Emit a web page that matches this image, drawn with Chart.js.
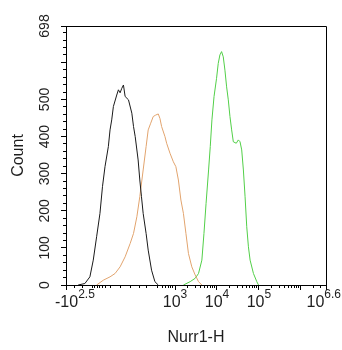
<!DOCTYPE html>
<html>
<head>
<meta charset="utf-8">
<script src="https://cdn.jsdelivr.net/npm/chart.js@4.4.1/dist/chart.umd.min.js"></script>
<style>
  html, body { margin: 0; padding: 0; background: #fff; }
  canvas { display: block; }
</style>
</head>
<body>
<canvas id="histChart" width="342" height="350"></canvas>
<script>
// x values are display positions on the biexponential axis (10^3 -> 3, 10^4 -> 4 ...)
const controlX = [0.69, 0.85, 0.97, 1.05, 1.13, 1.21, 1.27, 1.33, 1.41, 1.45, 1.49, 1.53, 1.61, 1.65, 1.69, 1.73, 1.77, 1.81, 1.89, 1.97, 2.01, 2.05, 2.12, 2.16, 2.20, 2.24, 2.31, 2.36, 2.44, 2.52, 2.60];
const controlCount = [0, 4, 22, 67, 130, 193, 265, 319, 373, 418, 445, 481, 512, 526, 518, 530, 539, 508, 499, 463, 427, 400, 337, 283, 238, 193, 139, 94, 40, 9, 0];

const isotypeX = [1.13, 1.29, 1.45, 1.57, 1.69, 1.81, 1.93, 2.01, 2.09, 2.16, 2.24, 2.31, 2.36, 2.42, 2.48, 2.54, 2.60, 2.64, 2.68, 2.76, 2.80, 2.88, 2.96, 3.02, 3.08, 3.14, 3.20, 3.26, 3.32, 3.40, 3.48, 3.56, 3.64];
const isotypeCount = [0, 13, 22, 31, 49, 76, 112, 139, 184, 238, 310, 373, 418, 436, 454, 458, 461, 449, 427, 400, 382, 355, 332, 319, 283, 229, 193, 139, 85, 49, 27, 9, 0];

const nurr1X = [3.20, 3.36, 3.48, 3.56, 3.64, 3.69, 3.74, 3.80, 3.84, 3.88, 3.93, 3.99, 4.03, 4.07, 4.11, 4.15, 4.19, 4.23, 4.27, 4.31, 4.35, 4.39, 4.46, 4.51, 4.55, 4.59, 4.63, 4.67, 4.71, 4.75, 4.79, 4.87, 4.95, 4.99];
const nurr1Count = [0, 9, 18, 31, 67, 139, 220, 310, 373, 445, 508, 557, 597, 620, 629, 615, 579, 534, 499, 454, 418, 386, 382, 391, 386, 364, 310, 238, 157, 103, 67, 31, 9, 0];

const xMin = 0.4, xMax = 6.6;
const xMajorTicks = [0.4, 3, 4, 5, 6, 6.6];
const xMinorTicks = [0.6, 0.8, 1.02, 1.08, 1.14, 1.2, 1.26, 1.33, 1.45, 1.69, 1.93, 2.16, 2.33, 2.57, 2.7, 2.78, 2.85, 2.9, 2.95,
  3.3, 3.48, 3.6, 3.7, 3.78, 3.85, 3.9, 3.95,
  4.3, 4.48, 4.6, 4.7, 4.78, 4.85, 4.9, 4.95,
  5.3, 5.48, 5.6, 5.7, 5.78, 5.85, 5.9, 5.95,
  6.3, 6.48];
// [position, base, exponent]
const xTickLabels = [[0.4, '-10', '2.5'], [3, '10', '3'], [4, '10', '4'], [5, '10', '5'], [6.6, '10', '6.6']];

const yMax = 698;
const yMajorTicks = [0, 100, 200, 300, 400, 500, 600, 698];
const yTickLabels = ['0', '100', '200', '300', '400', '500', '', '698'];
const yMinorTicks = [];
for (let v = 0; v <= 680; v += 20) yMinorTicks.push(v);

const FONT = '"Liberation Sans", Arial, sans-serif';
const INK = '#1e1e1e';

const setTicks = (values) => (scale) => {
  scale.ticks = values.map(v => ({ value: v }));
};

// box around the plot + x labels with raised exponents
const framePlugin = {
  id: 'frame',
  afterDraw(chart) {
    const { ctx, chartArea: a } = chart;
    const xs = chart.scales.x;
    ctx.save();
    ctx.strokeStyle = '#000';
    ctx.lineWidth = 1;
    ctx.beginPath();
    ctx.moveTo(Math.round(a.left), Math.round(a.top) + 0.5);
    ctx.lineTo(Math.round(a.right) + 0.5, Math.round(a.top) + 0.5);
    ctx.lineTo(Math.round(a.right) + 0.5, Math.round(a.bottom));
    ctx.stroke();

    ctx.fillStyle = INK;
    ctx.textBaseline = 'alphabetic';
    ctx.textAlign = 'left';
    xTickLabels.forEach(([v, base, exp]) => {
      ctx.font = '16px ' + FONT;
      const wb = ctx.measureText(base).width;
      ctx.font = '12px ' + FONT;
      const we = ctx.measureText(exp).width;
      const w = wb + we;
      let left = xs.getPixelForValue(v) - w / 2;
      left = Math.max(55, Math.min(left, chart.width - 1 - w));
      ctx.font = '16px ' + FONT;
      ctx.fillText(base, left, a.bottom + 22);
      ctx.font = '12px ' + FONT;
      ctx.fillText(exp, left + wb, a.bottom + 13);
    });
    ctx.restore();
  }
};

const line = (data, xs, color) => ({
  data: xs.map((x, i) => ({ x: x, y: data[i] })),
  borderColor: color,
  borderWidth: 1,
  pointRadius: 0,
  showLine: true,
  fill: false,
  tension: 0
});

new Chart(document.getElementById('histChart'), {
  type: 'scatter',
  data: {
    datasets: [
      line(controlCount, controlX, '#1a1a1a'),
      line(isotypeCount, isotypeX, '#e2a46e'),
      line(nurr1Count, nurr1X, '#52cf48')
    ]
  },
  options: {
    responsive: false,
    animation: false,
    devicePixelRatio: 1,
    layout: { padding: { top: 26, right: 16, left: 0, bottom: 0 } },
    plugins: { legend: { display: false }, tooltip: { enabled: false } },
    scales: {
      x: {
        type: 'linear', position: 'bottom', weight: 1,
        min: xMin, max: xMax,
        afterBuildTicks: setTicks(xMajorTicks),
        afterFit: (s) => { s.height = 65; },
        ticks: { display: false },
        grid: { drawOnChartArea: false, tickLength: 5, tickColor: '#000' },
        border: { color: '#000', width: 1 },
        title: { display: true, text: 'Nurr1-H', color: INK, font: { family: FONT, size: 16 }, padding: { top: 0, bottom: 3 } }
      },
      xMinor: {
        type: 'linear', position: 'bottom', weight: 0,
        min: xMin, max: xMax,
        afterBuildTicks: setTicks(xMinorTicks),
        afterFit: (s) => { s.height = 0; },
        ticks: { display: false },
        grid: { drawOnChartArea: false, tickLength: 3, tickColor: '#000' },
        border: { display: false }
      },
      y: {
        type: 'linear', position: 'left', weight: 1,
        min: 0, max: yMax,
        afterBuildTicks: setTicks(yMajorTicks),
        afterFit: (s) => { s.width = 66; },
        ticks: {
          color: INK, font: { family: FONT, size: 14 },
          minRotation: 90, maxRotation: 90, crossAlign: 'center', padding: 4,
          autoSkip: false,
          callback: (v, i) => yTickLabels[i]
        },
        grid: { drawOnChartArea: false, tickLength: 5, tickColor: '#000' },
        border: { color: '#000', width: 1 },
        title: { display: true, text: 'Count', color: INK, font: { family: FONT, size: 16 }, padding: { top: 9, bottom: 0 } }
      },
      yMinor: {
        type: 'linear', position: 'left', weight: 0,
        min: 0, max: yMax,
        afterBuildTicks: setTicks(yMinorTicks),
        afterFit: (s) => { s.width = 0; },
        ticks: { display: false },
        grid: { drawOnChartArea: false, tickLength: 3, tickColor: '#000' },
        border: { display: false }
      }
    }
  },
  plugins: [framePlugin]
});
</script>
</body>
</html>
